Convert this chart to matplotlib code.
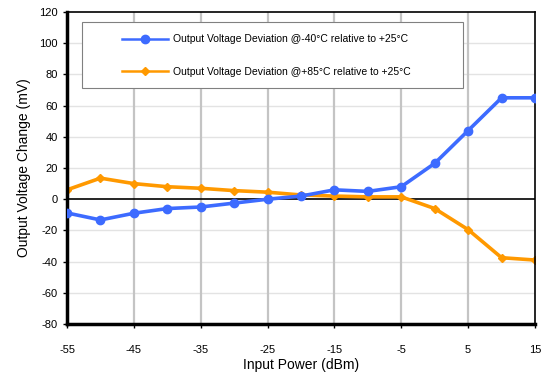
import numpy as np
import matplotlib.pyplot as plt
from matplotlib.patches import Rectangle

plt.rcParams['font.family'] = ['Liberation Sans', 'DejaVu Sans']
plt.rcParams['axes.unicode_minus'] = False

# Input power (dBm)
power = [-55, -50, -45, -40, -35, -30, -25, -20, -15, -10, -5, 0, 5, 10, 15]

# Output voltage change (mV)
dev_cold = [-8.8, -13.3, -9, -6, -5, -2.5, 0, 2, 6, 5, 8, 23, 44, 65, 65]
dev_hot = [6, 13.5, 10, 8, 7, 5.5, 4.5, 2.7, 2, 1.5, 1.5, -6, -19.5, -37.5, -39]

x_ticks = [-55, -45, -35, -25, -15, -5, 5, 15]
y_ticks = [-80, -60, -40, -20, 0, 20, 40, 60, 80, 100, 120]

fig = plt.figure(figsize=(5.41, 3.76), dpi=100)
ax = fig.add_axes([67 / 541, 52 / 376, 468 / 541, 312 / 376])

# grid
for y in y_ticks[1:-1]:
    if y != 0:
        ax.axhline(y, color='#e3e3e3', lw=1.0, zorder=0)
for x in x_ticks[1:-1]:
    ax.axvline(x, color='#c4c4c4', lw=1.6, zorder=0)
ax.axhline(0, color='black', lw=1.2, zorder=1)

ax.plot(power, dev_cold, color='#3d6bff', lw=2.6, marker='o', markersize=6,
        label='Output Voltage Deviation @-40\u00b0C relative to +25\u00b0C', zorder=3)
ax.plot(power, dev_hot, color='#ff9900', lw=2.6, marker='D', markersize=4,
        label='Output Voltage Deviation @+85\u00b0C relative to +25\u00b0C', zorder=2)

ax.set_xlim(-55, 15)
ax.set_ylim(-80, 120)
ax.set_xticks(x_ticks)
ax.set_yticks(y_ticks)
ax.tick_params(labelsize=8, length=3, width=1, direction='out')
ax.tick_params(axis='x', pad=12)

for side in ['left', 'bottom']:
    ax.spines[side].set_linewidth(2.5)
for side in ['top', 'right']:
    ax.spines[side].set_linewidth(1.2)

ax.set_xlabel('Input Power (dBm)', fontsize=10, labelpad=2)
ax.set_ylabel('Output Voltage Change (mV)', fontsize=10, labelpad=6)

# legend box
ax.add_patch(Rectangle((0.032, 0.756), 0.814, 0.212, transform=ax.transAxes,
                       facecolor='white', edgecolor='#808080', lw=0.8, zorder=4))
leg = ax.legend(loc='upper left', bbox_to_anchor=(0.1175, 0.929), fontsize=7.5,
                frameon=False, handlelength=4.4, borderpad=0,
                labelspacing=2.2, borderaxespad=0, handletextpad=0.5)
leg.set_zorder(5)
for line in leg.get_lines():
    line.set_linewidth(1.8)

plt.savefig('out.png', dpi=100)
